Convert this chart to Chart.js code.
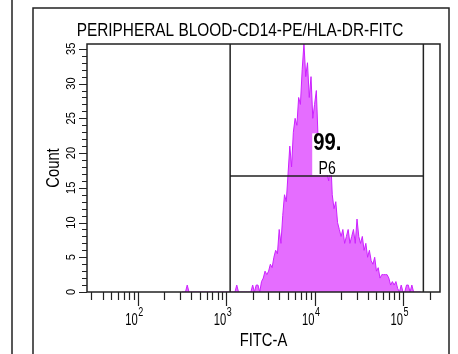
<!DOCTYPE html>
<html>
<head>
<meta charset="utf-8">
<title>PERIPHERAL BLOOD-CD14-PE/HLA-DR-FITC</title>
<script src="https://cdn.jsdelivr.net/npm/chart.js@4.4.1/dist/chart.umd.min.js"></script>
<style>
    html, body { margin: 0; padding: 0; background: #fff; }
    canvas { display: block; }
</style>
</head>
<body>
<canvas id="histChart" width="458" height="354"></canvas>
<script>
// histogram bins: log10(FITC-A) of the first bin and bin width (decades)
const binStartLog = 2.5;
const binWidthLog = 0.02;

// events per bin
const counts = [
    0, 0, 0, 1, 0, 0, 0, 0, 0, 0,
    0, 0, 0, 0, 0, 0, 0, 0, 0, 0,
    0, 0, 0, 0, 0, 0, 0, 0, 0, 0,
    0, 1, 0, 0, 0, 0, 0, 0, 0, 0,
    1, 0, 1, 1, 0, 1.5, 2, 3, 2.5, 3,
    4, 3.5, 5, 6, 5.5, 9, 7, 11, 14, 13,
    17, 21, 18, 23, 25, 24, 28, 27, 32, 35.8,
    31, 33, 28, 31, 25, 27, 29, 22, 21, 19,
    22, 18, 17, 16, 20, 14, 12, 13, 10, 9,
    8, 9, 7, 8, 9, 7, 8, 9, 7, 10.5,
    8, 7, 8, 6, 7, 5, 6, 4.5, 4, 5,
    3, 3.5, 2, 2.5, 2.5, 2.5, 2.5, 2, 1, 1.5,
    1, 1.5, 0.5, 0, 1, 0, 0, 1, 1, 0,
    1, 0, 0, 0, 0, 0
];

const xRange = [26.7, 262144];
const yRange = [0, 35.7];
const yTickMax = 35;
const xMinorDecades = [1, 2, 3, 4, 5];
const xLabelDecades = [2, 3, 4, 5];

// interval gate P6
const gateRange = [1110, 170000];
const gateLevel = 16.7;
const gatePercent = '99.';
const gateName = 'P6';

const plotTitle = 'PERIPHERAL BLOOD-CD14-PE/HLA-DR-FITC';
const xTitle = 'FITC-A';
const yTitle = 'Count';

const FONT = '"Liberation Sans", Arial, sans-serif';

const points = counts.map((c, i) => ({ x: Math.pow(10, binStartLog + i * binWidthLog), y: c }));

// the cytometer export squeezes its text horizontally
function narrowText(ctx, text, x, y, font, sx, rot) {
    ctx.save();
    ctx.translate(x, y);
    if (rot) ctx.rotate(rot);
    ctx.scale(sx, 1);
    ctx.font = font;
    ctx.fillText(text, 0, 0);
    ctx.restore();
}

const facsFrame = {
    id: 'facsFrame',
    beforeDraw(chart) {
        const ctx = chart.ctx;
        ctx.save();
        ctx.fillStyle = '#fff';
        ctx.fillRect(0, 0, chart.width, chart.height);
        ctx.strokeStyle = '#222';
        ctx.lineWidth = 1.5;
        ctx.beginPath();
        ctx.moveTo(12, 0);
        ctx.lineTo(12, chart.height);
        ctx.moveTo(33, chart.height);
        ctx.lineTo(33, 8);
        ctx.lineTo(449, 8);
        ctx.lineTo(449, chart.height);
        ctx.stroke();
        ctx.restore();
    },
    afterDatasetsDraw(chart) {
        const ctx = chart.ctx;
        const { left, right, top, bottom } = chart.chartArea;
        const xs = chart.scales.x;
        const ys = chart.scales.y;

        ctx.save();
        ctx.strokeStyle = '#222';

        // x ticks (log minor + major)
        ctx.lineWidth = 1.2;
        ctx.beginPath();
        xMinorDecades.forEach(k => {
            for (let m = 1; m <= 9; m++) {
                const v = m * Math.pow(10, k);
                if (v < xs.min || v > xs.max) continue;
                const px = Math.round(xs.getPixelForValue(v)) + 0.5;
                ctx.moveTo(px, bottom);
                ctx.lineTo(px, bottom + (m === 1 ? 14 : 8));
            }
        });
        // y ticks
        for (let v = 0; v <= yTickMax; v++) {
            const py = Math.round(ys.getPixelForValue(v)) + 0.5;
            ctx.moveTo(left - (v % 5 === 0 ? 8 : 5), py);
            ctx.lineTo(left, py);
        }
        ctx.stroke();

        // plot box
        ctx.lineWidth = 1.5;
        ctx.strokeRect(left, top, right - left, bottom - top);

        // gate
        const g1 = xs.getPixelForValue(gateRange[0]);
        const g2 = xs.getPixelForValue(gateRange[1]);
        const gy = ys.getPixelForValue(gateLevel);
        ctx.beginPath();
        ctx.moveTo(g1, top);
        ctx.lineTo(g1, bottom);
        ctx.moveTo(g2, top);
        ctx.lineTo(g2, bottom);
        ctx.moveTo(g1, gy);
        ctx.lineTo(g2, gy);
        ctx.stroke();

        ctx.fillStyle = '#000';

        // titles
        ctx.textAlign = 'center';
        ctx.textBaseline = 'middle';
        narrowText(ctx, plotTitle, 240, 31, '18px ' + FONT, 0.855);
        narrowText(ctx, xTitle, (left + right) / 2, 341, '18px ' + FONT, 0.82);
        narrowText(ctx, yTitle, 54, (top + bottom) / 2, '18px ' + FONT, 0.82, -Math.PI / 2);

        // x tick labels: 10 with superscript exponent
        ctx.textBaseline = 'alphabetic';
        xLabelDecades.forEach(k => {
            const px = xs.getPixelForValue(Math.pow(10, k));
            ctx.textAlign = 'right';
            narrowText(ctx, '10', px, bottom + 33, '16px ' + FONT, 0.7);
            ctx.textAlign = 'left';
            narrowText(ctx, String(k), px + 0.5, bottom + 24, '12px ' + FONT, 0.75);
        });

        // y tick labels, rotated
        ctx.textAlign = 'center';
        ctx.textBaseline = 'middle';
        for (let v = 0; v <= yTickMax; v += 5) {
            const py = ys.getPixelForValue(v);
            narrowText(ctx, String(v), left - 16, py, '13px ' + FONT, 0.85, -Math.PI / 2);
        }

        // gate label
        const lx = xs.getPixelForValue(13900);
        const pctY = ys.getPixelForValue(21.4);
        const nameY = ys.getPixelForValue(17.8);
        ctx.fillStyle = '#fff';
        ctx.fillRect(lx - 15, pctY - 10, 31, gy - pctY + 9);
        ctx.fillStyle = '#000';
        narrowText(ctx, gatePercent, lx, pctY, 'bold 23px ' + FONT, 0.88);
        narrowText(ctx, gateName, lx, nameY, '19px ' + FONT, 0.74);
        ctx.restore();
    }
};

const ctx = document.getElementById('histChart').getContext('2d');
new Chart(ctx, {
    type: 'line',
    data: {
        datasets: [{
            label: 'Count',
            data: points,
            borderColor: '#cc22ff',
            backgroundColor: '#e56dff',
            borderWidth: 1,
            pointRadius: 0,
            tension: 0,
            fill: 'origin'
        }]
    },
    options: {
        responsive: false,
        animation: false,
        layout: {
            padding: { left: 34, right: 18, top: 44, bottom: 2 }
        },
        plugins: {
            legend: { display: false },
            tooltip: { enabled: false },
            title: { display: false }
        },
        scales: {
            x: {
                type: 'logarithmic',
                min: xRange[0],
                max: xRange[1],
                grid: { display: false },
                border: { display: false },
                ticks: { display: false },
                afterFit: function(scale) {
                    scale.height = 60;
                }
            },
            y: {
                min: yRange[0],
                max: yRange[1],
                grid: { display: false },
                border: { display: false },
                ticks: { display: false },
                afterFit: function(scale) {
                    scale.width = 53;
                }
            }
        }
    },
    plugins: [facsFrame]
});
</script>
</body>
</html>
